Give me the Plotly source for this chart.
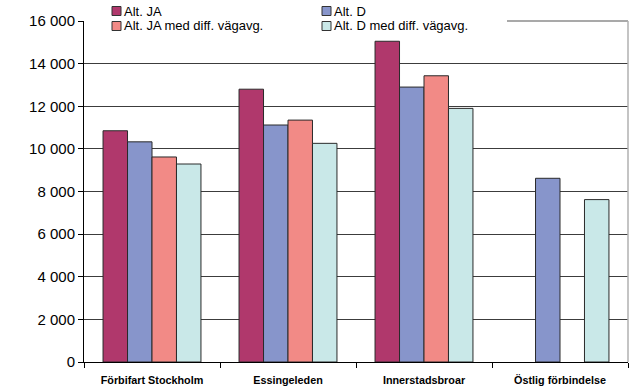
import plotly.graph_objects as go

categories = ["Förbifart Stockholm", "Essingeleden", "Innerstadsbroar", "Östlig förbindelse"]
alt_ja = [10850, 12800, 15050, None]
alt_d = [10330, 11120, 12900, 8620]
alt_ja_diff = [9620, 11350, 13430, None]
alt_d_diff = [9290, 10260, 11900, 7620]

series_names = ["Alt. JA", "Alt. D", "Alt. JA med diff. vägavg.", "Alt. D med diff. vägavg."]
series_values = [alt_ja, alt_d, alt_ja_diff, alt_d_diff]
series_colors = ["#b0386c", "#8795cb", "#f28a86", "#c9e8e8"]

FONT = "Liberation Sans, Arial, sans-serif"
W, H = 637, 392
L, R, T, B = 84, 9, 21, 30
PW, PH = W - L - R, H - T - B


def px_x(x):
    return (x - L) / PW


def px_y(y):
    return (H - B - y) / PH


fig = go.Figure()
for name, vals, color in zip(series_names, series_values, series_colors):
    fig.add_trace(go.Bar(
        x=categories, y=vals, name=name, showlegend=False,
        marker=dict(color=color, line=dict(color="#2a2a2a", width=1)),
    ))

fig.update_layout(
    width=W, height=H,
    margin=dict(l=L, r=R, t=T, b=B, autoexpand=False),
    paper_bgcolor="white", plot_bgcolor="white",
    barmode="group", bargap=0.28, bargroupgap=0,
    separators=", ",
    font=dict(family=FONT, color="#000"),
    xaxis=dict(
        showline=True, linecolor="#000", linewidth=1,
        ticks="outside", ticklen=5, tickcolor="#000", tickson="boundaries",
        tickangle=0, ticklabelstandoff=8,
        tickfont=dict(size=10.8, family=FONT, weight="bold"),
        showgrid=False,
    ),
    yaxis=dict(
        range=[0, 16000], tickvals=list(range(0, 16001, 2000)), tickformat=",d",
        showline=True, linecolor="#000", linewidth=1,
        ticks="outside", ticklen=5, tickcolor="#000",
        tickfont=dict(size=15),
        showgrid=True, gridcolor="#3c3c3c", gridwidth=1,
        zeroline=False,
    ),
)

# Legend box (white background, two columns)
fig.add_shape(type="rect", xref="paper", yref="paper", layer="above",
              x0=px_x(88), x1=px_x(506), y0=px_y(0), y1=px_y(33),
              fillcolor="white", line=dict(width=0))
col_x = [112, 322]
row_y = [11, 26]
for i, (name, color) in enumerate(zip(series_names, series_colors)):
    cx, ry = col_x[i % 2], row_y[i // 2]
    fig.add_shape(type="rect", xref="paper", yref="paper", layer="above",
                  x0=px_x(cx), x1=px_x(cx + 9), y0=px_y(ry - 4.5), y1=px_y(ry + 4.5),
                  fillcolor=color, line=dict(color="#333", width=1))
    fig.add_annotation(xref="paper", yref="paper", x=px_x(cx + 11), y=px_y(ry),
                       xanchor="left", yanchor="middle", showarrow=False, borderpad=0,
                       text=name, font=dict(family=FONT, size=13, color="#000"))

# Plot frame: top edge right of the legend and the right edge
fig.add_shape(type="line", xref="paper", yref="paper",
              x0=px_x(507), x1=1, y0=1, y1=1,
              line=dict(color="#8c8c8c", width=1.5))
fig.add_shape(type="line", xref="paper", yref="paper",
              x0=1, x1=1, y0=0, y1=1,
              line=dict(color="#b0b0b0", width=1.5))

fig.write_html("out.html")
